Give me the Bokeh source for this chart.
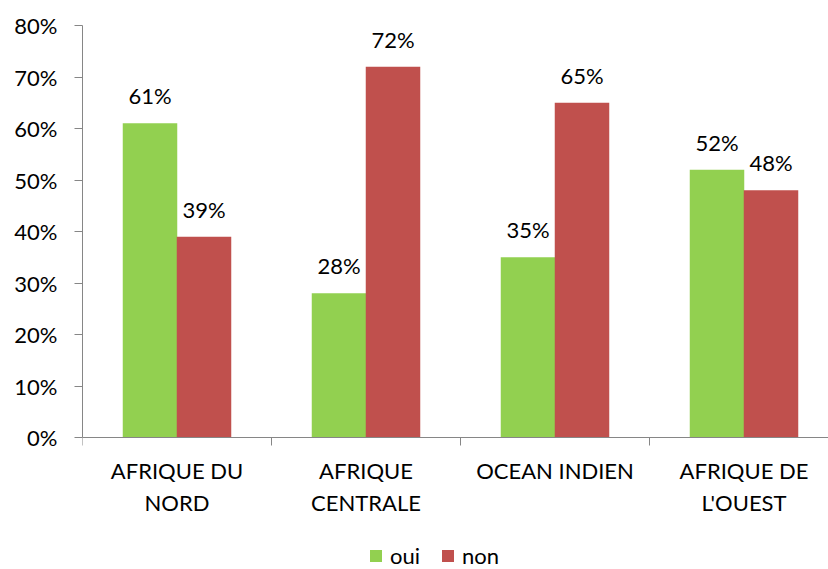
from bokeh.plotting import figure
from bokeh.models import (ColumnDataSource, Range1d, FixedTicker, NumeralTickFormatter,
                          LabelSet, Legend, LegendItem)
from bokeh.core.properties import value
from bokeh.embed import file_html
from bokeh.resources import INLINE

categories = ["AFRIQUE DU\nNORD", "AFRIQUE\nCENTRALE", "OCEAN INDIEN", "AFRIQUE DE\nL'OUEST"]
oui = [0.61, 0.28, 0.35, 0.52]
non = [0.39, 0.72, 0.65, 0.48]
y_ticks = [0.0, 0.1, 0.2, 0.3, 0.4, 0.5, 0.6, 0.7, 0.8]

GREEN = "#92D050"
RED = "#C0504D"
AXIS = "#868686"
FONT = "Lato"
FS = "22px"

W, H = 828, 569
LEFT, TOP, AXIS_Y = 82, 25, 437          # pixel layout of the frame
CAT_W = 189                               # pixels per category
PX_PER_UNIT = (AXIS_Y - TOP) / 0.8        # pixels per 100 %

n = len(categories)
centers = [i + 0.5 for i in range(n)]
off = 27 / CAT_W
bw = 54.5 / CAT_W

src_oui = ColumnDataSource(dict(x=[c - off for c in centers], top=oui,
                                lab=[f"{round(v*100)}%" for v in oui]))
src_non = ColumnDataSource(dict(x=[c + off for c in centers], top=non,
                                lab=[f"{round(v*100)}%" for v in non]))

y_min = -(H - AXIS_Y) / PX_PER_UNIT
p = figure(width=W, height=H, output_backend="svg", toolbar_location=None,
           x_range=Range1d(0, (W - LEFT) / CAT_W), y_range=Range1d(y_min, 0.8),
           min_border_left=LEFT, min_border_right=0, min_border_top=TOP, min_border_bottom=0,
           x_axis_location=None)
p.outline_line_color = None
p.xgrid.visible = False
p.ygrid.visible = False

r_oui = p.vbar(x="x", top="top", width=bw, bottom=0, source=src_oui,
               fill_color=GREEN, line_color=None)
r_non = p.vbar(x="x", top="top", width=bw, bottom=0, source=src_non,
               fill_color=RED, line_color=None)

for src in (src_oui, src_non):
    p.add_layout(LabelSet(x="x", y="top", text="lab", source=src, y_offset=19,
                          text_align="center", text_baseline="alphabetic",
                          text_font=value(FONT), text_font_size=value(FS),
                          text_color="#000000"))

# y axis
ya = p.yaxis[0]
ya.ticker = FixedTicker(ticks=y_ticks)
ya.bounds = (0, 0.8)
ya.formatter = NumeralTickFormatter(format="0%")
ya.axis_line_color = AXIS
ya.major_tick_line_color = AXIS
ya.major_tick_in = 0
ya.major_tick_out = 8
ya.minor_tick_line_color = None
ya.major_label_standoff = 17
ya.major_label_text_font = FONT
ya.major_label_text_font_size = FS
ya.major_label_text_color = "#000000"

# x axis drawn at y = 0
bounds = list(range(n + 1))
p.segment(x0=[0], y0=[0], x1=[(W - LEFT) / CAT_W], y1=[0], line_color=AXIS, line_width=1)
tick_len = 8 / PX_PER_UNIT
p.segment(x0=bounds, y0=[0] * len(bounds), x1=bounds, y1=[-tick_len] * len(bounds),
          line_color=AXIS, line_width=1)
p.text(x=centers, y=[0] * n, text=categories, y_offset=19,
       text_align="center", text_baseline="top", text_line_height=1.2,
       text_font=value(FONT), text_font_size=value(FS), text_color="#000000")

legend = Legend(items=[LegendItem(label="oui", renderers=[r_oui]),
                       LegendItem(label="non", renderers=[r_non])],
                orientation="horizontal", location=(286, 0),
                glyph_width=15, glyph_height=15, label_standoff=7, spacing=20,
                padding=0, margin=0, border_line_color=None, background_fill_alpha=0,
                label_text_font=FONT, label_text_font_size=FS, label_text_color="#000000",
                label_height=20)
p.add_layout(legend)

open("out.html", "w").write(file_html(p, INLINE))
